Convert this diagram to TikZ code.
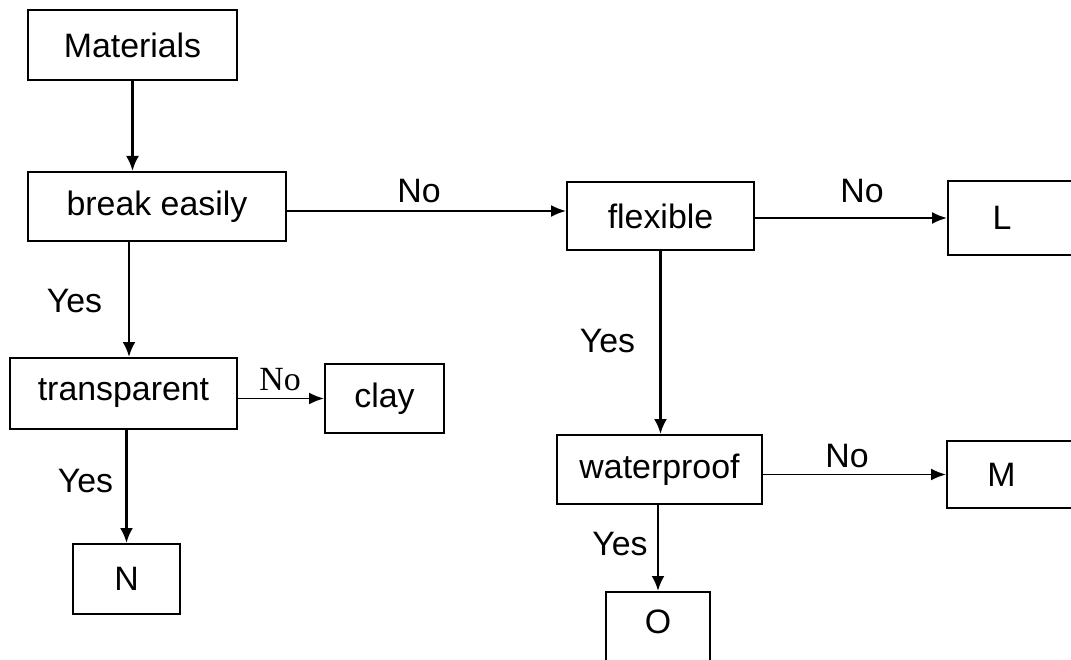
\documentclass[tikz,border=0pt]{standalone}
\usepackage{fontspec}
\setmainfont{Liberation Sans}
\newfontfamily\serifno{Liberation Serif}
\usetikzlibrary{arrows.meta,calc}
\begin{document}
\begin{tikzpicture}[x=1bp,y=-1bp,
  every node/.style={font=\fontsize{34}{40}\selectfont},
  box/.style={draw,line width=2bp,inner sep=0pt},
  lbl/.style={anchor=base,inner sep=0pt},
  arr/.style={line width=1.8bp,-{Latex[length=15bp,width=12bp]}},
  varr/.style={line width=2.6bp,-{Latex[length=15bp,width=13bp]}}]
\useasboundingbox (0,0) rectangle (1071,660);
% boxes
\node[box,minimum width=209bp,minimum height=70bp] (mat) at (132.5,45) {Materials};
\node[box,minimum width=258bp,minimum height=69bp] (be) at (157,206.5) {break easily};
\node[box,minimum width=227bp,minimum height=71bp] (tr) at (123.5,393.5) {transparent};
\node[box,minimum width=119bp,minimum height=69bp] (clay) at (384.5,398.5) {clay};
\node[box,minimum width=107bp,minimum height=70bp] (N) at (126.5,579) {N};
\node[box,minimum width=187bp,minimum height=68bp] (fl) at (660.5,216) {flexible};
\node[box,minimum width=132bp,minimum height=74bp] (L) at (1014,218) {L\hspace*{24bp}};
\node[box,minimum width=205bp,minimum height=69bp] (wp) at (659.5,469.5) {waterproof};
\node[box,minimum width=133bp,minimum height=67bp] (M) at (1013.5,474.5) {M\hspace*{24bp}};
\node[box,minimum width=104bp,minimum height=72bp,text depth=12bp] (O) at (658,628) {O};
% connectors
\coordinate (y1) at (0,211);
\draw[varr] (mat.south) -- (mat.south |- be.north);
\draw[arr] (be.east |- y1) -- (fl.west |- y1);
\draw[varr] ([xshift=-28bp]be.south) -- ([xshift=-28bp]be.south |- tr.north);
\draw[arr] (tr.east |- clay) -- (clay.west);
\draw[varr] (tr.south -| N) -- (N.north);
\draw[arr] (fl.east |- L) -- (L.west);
\draw[varr] (fl.south) -- (fl.south |- wp.north);
\draw[arr] (wp.east |- M) -- (M.west);
\draw[varr] (wp.south -| O) -- (O.north);
% labels
\node[lbl] (l1) at (419,203) {No};
\node[lbl] (l2) at (74.5,312) {Yes};
\node[lbl,font=\serifno\fontsize{34}{40}\selectfont] (l3) at (280,390) {No};
\node[lbl] (l4) at (85.5,492) {Yes};
\node[lbl] (l5) at (862,203) {No};
\node[lbl] (l6) at (607.5,352) {Yes};
\node[lbl] (l7) at (847,467) {No};
\node[lbl] (l8) at (620,555) {Yes};
\end{tikzpicture}
\end{document}
